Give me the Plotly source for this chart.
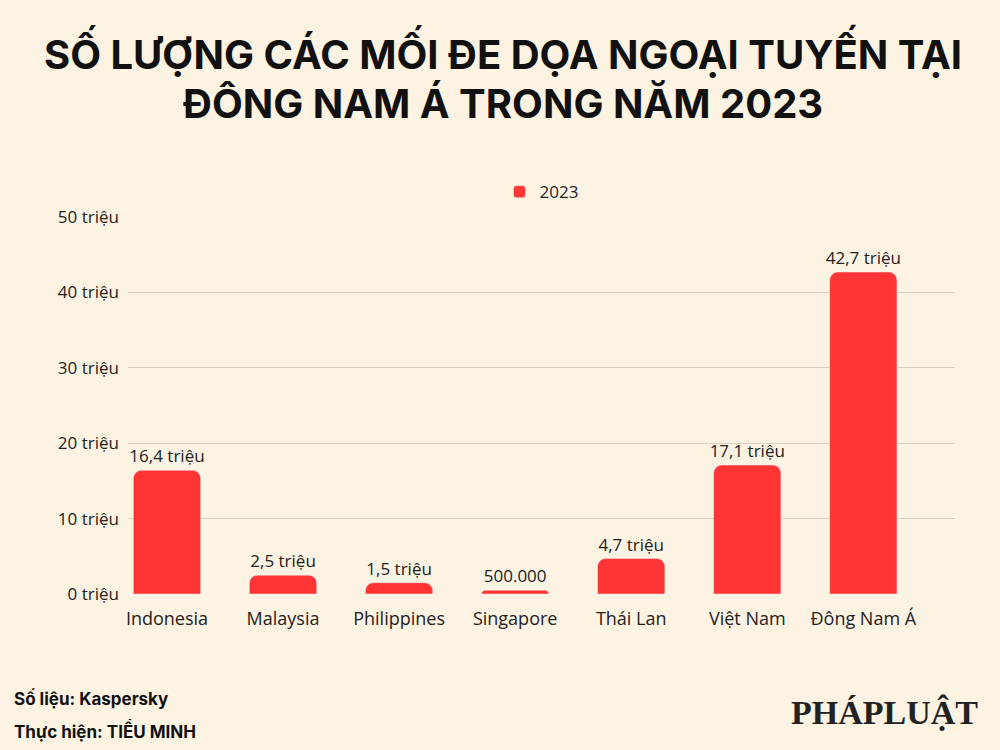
import plotly.graph_objects as go

categories = ["Indonesia", "Malaysia", "Philippines", "Singapore", "Thái Lan", "Việt Nam", "Đông Nam Á"]
values = [16.4, 2.5, 1.5, 0.5, 4.7, 17.1, 42.7]
labels = ["16,4 triệu", "2,5 triệu", "1,5 triệu", "500.000", "4,7 triệu", "17,1 triệu", "42,7 triệu"]
tick_vals = [0, 10, 20, 30, 40, 50]
tick_text = ["0 triệu", "10 triệu", "20 triệu", "30 triệu", "40 triệu", "50 triệu"]

bg = "#FDF3E3"
red = "#FF3434"

fig = go.Figure(go.Bar(
    x=categories, y=values, name="2023",
    marker=dict(color=red, cornerradius=8),
    text=labels, textposition="outside", cliponaxis=False,
    textangle=0, constraintext="none",
    textfont=dict(size=17, color="#222", family="Open Sans"),
))

fig.update_layout(
    width=1000, height=750,
    paper_bgcolor=bg, plot_bgcolor=bg,
    margin=dict(l=128, r=45, t=217, b=156, autoexpand=False),
    bargap=0.42,
    showlegend=True,
    legend=dict(orientation="h", x=0.5, xanchor="center", y=1.066, yanchor="middle",
                font=dict(size=17, color="#222", family="Open Sans"), bgcolor="rgba(0,0,0,0)"),
    font=dict(family="Open Sans", color="#222"),
)
fig.update_yaxes(range=[0, 50], tickvals=tick_vals, ticktext=tick_text,
                 gridcolor="#D8D0C4", gridwidth=1, zeroline=False, automargin=False,
                 tickfont=dict(size=17, color="#222"), ticklabelstandoff=8)
fig.update_xaxes(range=[-0.336, 6.79], tickfont=dict(size=18, color="#222"),
                 showline=False, automargin=False, ticklabelstandoff=12)

for txt, yy in [("SỐ LƯỢNG CÁC MỐI ĐE DỌA NGOẠI TUYẾN TẠI", 1.4377), ("ĐÔNG NAM Á TRONG NĂM 2023", 1.302)]:
    fig.add_annotation(text="<b>" + txt + "</b>", xref="paper", yref="paper",
                       x=0.454, y=yy, xanchor="center", yanchor="middle", showarrow=False,
                       font=dict(size=40, color="#111", family="Inter", weight=800))

fig.add_annotation(text="<b>Số liệu: Kaspersky</b>", xref="paper", yref="paper",
                   x=-0.140, y=-0.276, xanchor="left", yanchor="middle", showarrow=False,
                   font=dict(size=17, color="#111", family="Inter"))
fig.add_annotation(text="<b>Thực hiện: TIỂU MINH</b>", xref="paper", yref="paper",
                   x=-0.140, y=-0.361, xanchor="left", yanchor="middle", showarrow=False,
                   font=dict(size=17, color="#111", family="Inter"))
fig.add_annotation(text="<b>PHÁPLUẬT</b>", xref="paper", yref="paper",
                   x=1.030, y=-0.313, xanchor="right", yanchor="middle", showarrow=False,
                   font=dict(size=34, color="#222", family="Liberation Serif"))

fig.write_html("out.html", config={"displayModeBar": False},
               post_script="document.body.style.margin='0';document.body.style.background='%s';" % bg)
